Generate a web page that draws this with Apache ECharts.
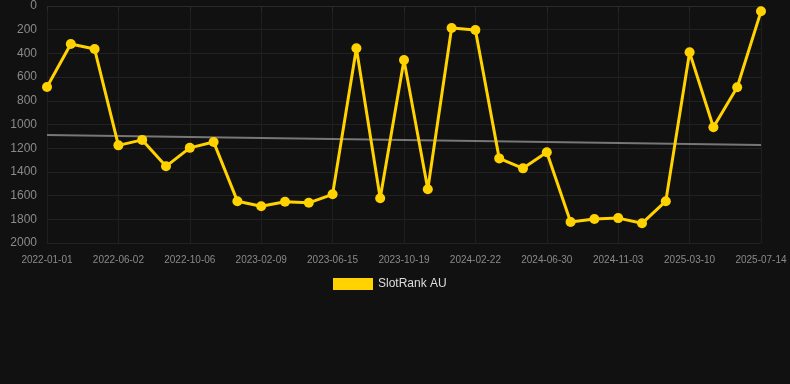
<!DOCTYPE html>
<html>
<head>
<meta charset="utf-8">
<script src="https://cdn.jsdelivr.net/npm/echarts@6/dist/echarts.min.js"></script>
<style>
html,body{margin:0;padding:0;background:#111111;}
#chart{width:790px;height:384px;}
</style>
</head>
<body>
<div id="chart"></div>
<script>
const categories = [
  '2022-01-01','2022-02-18','2022-04-07','2022-06-02','2022-07-14','2022-08-25',
  '2022-10-06','2022-11-17','2022-12-29','2023-02-09','2023-03-23','2023-05-04',
  '2023-06-15','2023-07-27','2023-09-07','2023-10-19','2023-11-30','2024-01-11',
  '2024-02-22','2024-04-04','2024-05-16','2024-06-30','2024-08-11','2024-09-22',
  '2024-11-03','2024-12-15','2025-01-26','2025-03-10','2025-04-21','2025-06-02',
  '2025-07-14'
];
const rankValues = [
  684, 320, 363, 1176, 1130, 1353, 1197, 1147, 1647, 1690, 1652, 1661,
  1589, 357, 1623, 456, 1547, 186, 202, 1286, 1370, 1234, 1823, 1797,
  1790, 1834, 1647, 391, 1023, 686, 45
];
const trendValues = [1089, 1173];
const yTicks = { min: 0, max: 2000, interval: 200 };
const seriesName = 'SlotRank AU';

const chart = echarts.init(document.getElementById('chart'), null, { renderer: 'canvas' });
chart.setOption({
  backgroundColor: '#111111',
  animation: false,
  grid: { left: 47, right: 29, top: 6, bottom: 141, containLabel: false },
  legend: {
    data: [seriesName],
    top: 278,
    left: 333,
    itemWidth: 40,
    itemHeight: 12,
    itemGap: 6,
    padding: 0,
    icon: 'rect',
    textStyle: { color: '#dddddd', fontSize: 12, fontFamily: 'Liberation Sans, Arial, sans-serif' }
  },
  xAxis: {
    type: 'category',
    data: categories,
    boundaryGap: false,
    axisLine: { show: true, lineStyle: { color: '#2a2a2a' } },
    axisTick: { show: true, interval: 2, length: 5, lineStyle: { color: '#2a2a2a' } },
    axisLabel: {
      interval: 2,
      color: '#8a8a8a',
      fontSize: 10,
      margin: 12,
      fontFamily: 'Liberation Sans, Arial, sans-serif'
    },
    splitLine: { show: true, interval: 2, lineStyle: { color: '#1f1f1f', width: 1 } }
  },
  yAxis: {
    type: 'value',
    inverse: true,
    min: yTicks.min,
    max: yTicks.max,
    interval: yTicks.interval,
    axisLine: { show: false },
    axisTick: { show: false },
    axisLabel: {
      color: '#8a8a8a',
      fontSize: 12,
      margin: 10,
      formatter: function (v) { return String(v); },
      fontFamily: 'Liberation Sans, Arial, sans-serif'
    },
    splitLine: { show: true, lineStyle: { color: '#222222', width: 1 } }
  },
  series: [
    {
      name: seriesName,
      type: 'line',
      data: rankValues,
      color: '#ffd200',
      symbol: 'circle',
      symbolSize: 10,
      lineStyle: { color: '#ffd200', width: 3 },
      itemStyle: { color: '#ffd200' },
      emphasis: { disabled: true },
      z: 3,
      markLine: {
        silent: true,
        symbol: ['none', 'none'],
        label: { show: false },
        lineStyle: { color: '#777777', width: 2, type: 'solid' },
        data: [[
          { coord: [categories[0], trendValues[0]] },
          { coord: [categories[categories.length - 1], trendValues[1]] }
        ]],
        z: 2
      }
    }
  ]
});
</script>
</body>
</html>
